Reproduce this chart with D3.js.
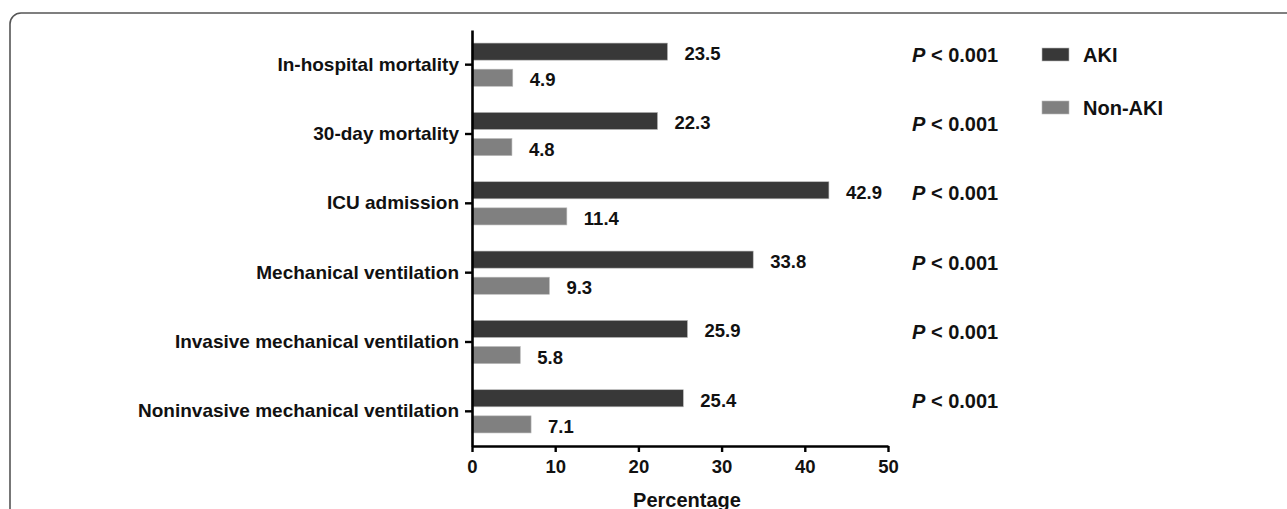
<!DOCTYPE html>
<html>
<head>
<meta charset="utf-8">
<script src="https://cdn.jsdelivr.net/npm/d3@7"></script>
<style>
  body { margin: 0; background: #fff; }
  text { font-family: "Liberation Sans", Arial, sans-serif; font-weight: bold; fill: #111; }
</style>
</head>
<body>
<svg id="chart" width="1287" height="509"></svg>
<script>
var categories = [
    "In-hospital mortality",
    "30-day mortality",
    "ICU admission",
    "Mechanical ventilation",
    "Invasive mechanical ventilation",
    "Noninvasive mechanical ventilation"
];
var groups = ["AKI", "Non-AKI"];
var akiValues = [23.5, 22.3, 42.9, 33.8, 25.9, 25.4];
var nonAkiValues = [4.9, 4.8, 11.4, 9.3, 5.8, 7.1];
var pLabels = ["< 0.001", "< 0.001", "< 0.001", "< 0.001", "< 0.001", "< 0.001"];
var xTicks = [0, 10, 20, 30, 40, 50];

var width = 1287,
    height = 509,
    margins = {top: 30, right: 399, bottom: 63, left: 472};

var colors = {"AKI": "#383838", "Non-AKI": "#808080"};

var svg = d3.select("#chart");

// frame with rounded top-left corner
svg.append("path")
    .attr("d", "M10,512 V24 A11,11 0 0 1 21,13 H1290")
    .attr("fill", "none")
    .attr("stroke", "#555")
    .attr("stroke-width", 1.6);

var xScale = d3.scaleLinear().domain([0, 50]).range([margins.left, width - margins.right]);
var yScale = d3.scaleBand().domain(categories).range([margins.top, height - margins.bottom]);
var inner = d3.scaleBand().domain(groups).range([0, yScale.bandwidth()])
    .paddingInner(0.346).paddingOuter(0.5);

var rows = categories.map(function(c, i) {
    return {cat: c, vals: [
        {g: "AKI", v: akiValues[i]},
        {g: "Non-AKI", v: nonAkiValues[i]}
    ], p: pLabels[i]};
});

var rowG = svg.selectAll(".row").data(rows).enter().append("g")
    .attr("class", "row")
    .attr("transform", d => "translate(0," + yScale(d.cat) + ")");

rowG.selectAll("rect").data(d => d.vals).enter().append("rect")
    .attr("x", xScale(0))
    .attr("y", d => inner(d.g))
    .attr("width", d => xScale(d.v) - xScale(0))
    .attr("height", inner.bandwidth())
    .attr("fill", d => colors[d.g])
    .attr("stroke", "#b8b8b8")
    .attr("stroke-width", 0.6);

rowG.selectAll(".val").data(d => d.vals).enter().append("text")
    .attr("class", "val")
    .attr("x", d => xScale(d.v) + 17)
    .attr("y", d => inner(d.g) + inner.bandwidth() / 2 + 2)
    .attr("dy", "0.35em")
    .style("font-size", "18.5px")
    .text(d => d.v.toFixed(1));

// p values
var pText = rowG.append("text")
    .attr("x", 912)
    .attr("y", yScale.bandwidth() / 2 - 3)
    .style("font-size", "20px");
pText.append("tspan").style("font-style", "italic").text("P");
pText.append("tspan").text(d => " " + d.p);

// axes
var xAxis = svg.append("g")
    .attr("transform", "translate(0," + (height - margins.bottom) + ")")
    .call(d3.axisBottom(xScale).tickValues(xTicks).tickSize(6).tickPadding(8).tickSizeOuter(0));

var yAxis = svg.append("g")
    .attr("transform", "translate(" + margins.left + ",0)")
    .call(d3.axisLeft(yScale).tickSize(7).tickPadding(6).tickSizeOuter(0));

[xAxis, yAxis].forEach(function(a) {
    a.select(".domain").attr("stroke", "#000").attr("stroke-width", 2.6);
    a.selectAll(".tick line").attr("stroke", "#000").attr("stroke-width", 2.4);
    a.selectAll(".tick text")
        .style("font-family", "'Liberation Sans', Arial, sans-serif")
        .style("font-weight", "bold")
        .style("font-size", "18.5px")
        .attr("fill", "#111");
});
yAxis.selectAll(".tick text").style("font-size", "19px");

svg.append("text")
    .attr("x", (xScale(0) + xScale(50)) / 2 + 7)
    .attr("y", 507)
    .attr("text-anchor", "middle")
    .style("font-size", "20px")
    .text("Percentage");

// legend
var legend = svg.selectAll(".legend").data(groups).enter().append("g")
    .attr("class", "legend")
    .attr("transform", (d, i) => "translate(1042," + (48 + i * 53) + ")");

legend.append("rect")
    .attr("width", 27)
    .attr("height", 13)
    .attr("fill", d => colors[d])
    .attr("stroke", "#b8b8b8")
    .attr("stroke-width", 0.6);

legend.append("text")
    .attr("x", 41)
    .attr("y", 6.5)
    .attr("dy", "0.35em")
    .style("font-size", "20px")
    .text(d => d);
</script>
</body>
</html>
